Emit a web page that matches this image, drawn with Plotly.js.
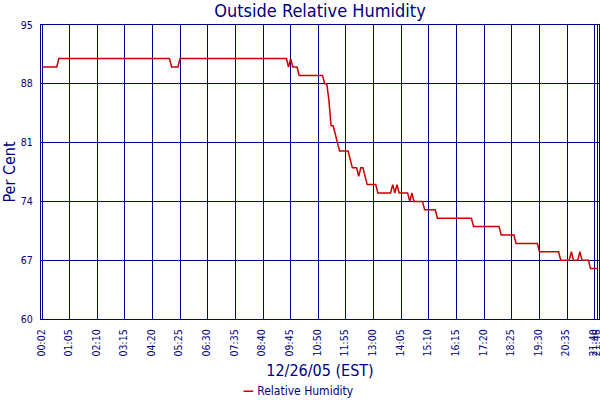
<!DOCTYPE html>
<html>
<head>
<meta charset="utf-8">
<script src="https://cdn.plot.ly/plotly-3.0.1.min.js"></script>
<style>
  html, body { margin: 0; padding: 0; background: #ffffff; }
  #chart { width: 600px; height: 400px; }
</style>
</head>
<body>
<div id="chart"></div>
<script>
// Reading times (12/26/05, EST) where the humidity value changes, and the values
const times = ["00:02","00:35","00:40","05:00","05:05","05:20","05:25","09:35","09:40","09:45",
  "09:50","10:00","10:05","11:00","11:05","11:10","11:15","11:20","11:25","11:30",
  "11:35","11:40","12:00","12:05","12:10","12:20","12:25","12:30","12:35","12:40",
  "12:45","13:05","13:10","13:40","13:45","13:50","13:55","14:00","14:20","14:25",
  "14:30","14:35","14:55","15:00","15:25","15:30","16:50","16:55","17:55","18:00",
  "18:30","18:35","19:25","19:30","20:15","20:20","20:40","20:45","20:50","21:00",
  "21:05","21:10","21:25","21:30","21:46"];
const humidity = [90,90,91,91,90,90,91,91,90,91,
  90,90,89,89,88,88,86,83,83,82,
  81,80,80,79,78,78,77,78,78,77,
  76,76,75,75,76,75,76,75,75,74,
  75,74,74,73,73,72,72,71,71,70,
  70,69,69,68,68,67,67,68,67,67,
  68,67,67,66,66];
const tickLabels = ["00:02","01:05","02:10","03:15","04:20","05:25","06:30","07:35","08:40","09:45",
  "10:50","11:55","13:00","14:05","15:10","16:15","17:20","18:25","19:30","20:35",
  "21:40","21:46"];
const yTicks = [60,67,74,81,88,95];
const seriesName = "Relative Humidity";
const day = "2005-12-26 ";

const NAVY = "#000080";
const FONT = "DejaVu Sans Condensed, DejaVu Sans, Liberation Sans, sans-serif";

const trace = {
  type: "scatter",
  mode: "lines",
  name: seriesName,
  x: times.map(t => day + t),
  y: humidity,
  line: { color: "#cc0000", width: 1.5, shape: "linear" },
  showlegend: false,
  hoverinfo: "skip"
};

const layout = {
  width: 600,
  height: 400,
  margin: { l: 41, r: 1, t: 25, b: 81, pad: 0 },
  paper_bgcolor: "#ffffff",
  plot_bgcolor: "#ffffff",
  font: { family: FONT, color: NAVY },
  title: {
    text: "Outside Relative Humidity",
    font: { family: FONT, size: 18, color: NAVY },
    x: 0.5, xref: "paper", xanchor: "center",
    y: 0.973, yref: "container", yanchor: "middle"
  },
  xaxis: {
    type: "date",
    range: ["2005-12-25 23:58", "2005-12-26 21:50"],
    tickmode: "array",
    tickvals: tickLabels.map(t => day + t),
    ticktext: tickLabels,
    tickangle: -90,
    tickfont: { family: FONT, size: 10.5, color: NAVY },
    ticks: "",
    ticklabelstandoff: 5,
    ticklabelshift: -1,
    ticklabeloverflow: "allow",
    showgrid: true,
    gridcolor: NAVY,
    gridwidth: 1,
    showline: true,
    linecolor: NAVY,
    linewidth: 1,
    mirror: true,
    zeroline: false,
    fixedrange: true,
    title: {
      text: "12/26/05 (EST)",
      font: { family: FONT, size: 16, color: NAVY },
      standoff: 9
    }
  },
  yaxis: {
    range: [60, 95],
    tickmode: "array",
    tickvals: yTicks,
    ticktext: yTicks.map(String),
    tickfont: { family: FONT, size: 10.5, color: NAVY },
    ticks: "",
    ticklabelstandoff: 5,
    ticklabeloverflow: "allow",
    showgrid: true,
    gridcolor: NAVY,
    gridwidth: 1,
    showline: true,
    linecolor: NAVY,
    linewidth: 1,
    mirror: true,
    zeroline: false,
    fixedrange: true,
    title: {
      text: "Per Cent",
      font: { family: FONT, size: 16, color: NAVY },
      standoff: 7
    }
  },
  showlegend: false,
  annotations: [{
    xref: "paper", yref: "paper",
    x: (298 - 41) / 558, y: (319 - 391) / 294,
    xanchor: "center", yanchor: "middle",
    showarrow: false,
    text: '<span style="color:#cc0000"><b>—</b></span> ' + seriesName,
    font: { family: FONT, size: 12, color: NAVY }
  }]
};

Plotly.newPlot("chart", [trace], layout, { staticPlot: true, displayModeBar: false });
</script>
</body>
</html>
